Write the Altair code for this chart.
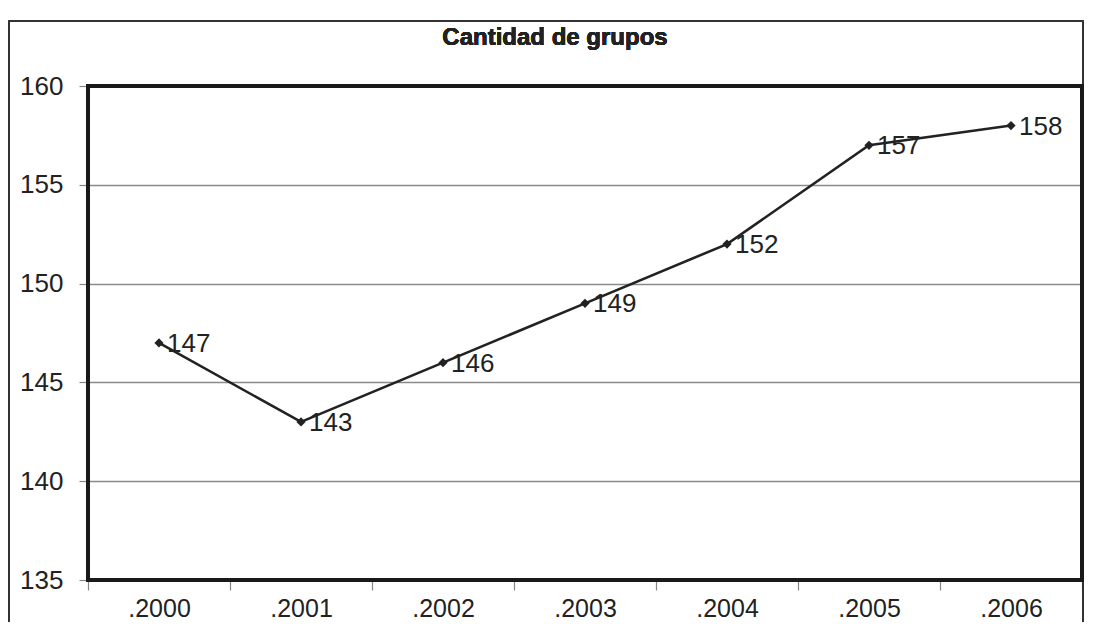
import altair as alt
import pandas as pd

years = [".2000", ".2001", ".2002", ".2003", ".2004", ".2005", ".2006"]
values = [147, 143, 146, 149, 152, 157, 158]
y_ticks = [135, 140, 145, 150, 155, 160]
title_text = "Cantidad de grupos"

df = pd.DataFrame({"year": years, "value": values})

FONT = "Liberation Sans"
W, H = 994, 494

x_enc = alt.X(
    "year:N",
    sort=years,
    scale=alt.Scale(type="band", paddingInner=0, paddingOuter=0),
    axis=alt.Axis(
        title=None, tickBand="extent", labelAngle=0, labelFontSize=25,
        labelFont=FONT, labelColor="#222", labelPadding=6, tickSize=10,
        tickColor="#888", tickWidth=1.2, domain=False, grid=False,
    ),
)
y_enc = alt.Y(
    "value:Q",
    scale=alt.Scale(domain=[135, 160], nice=False, zero=False),
    axis=alt.Axis(
        title=None, values=y_ticks, labelFontSize=26, labelFont=FONT,
        labelColor="#222", labelPadding=16, tickSize=9, tickColor="#888",
        tickWidth=1.2, grid=True, gridColor="#8a8a8a", gridWidth=1.4,
        domain=False,
    ),
)

base = alt.Chart(df)

outer = base.mark_rect(fill=None, stroke="#333", strokeWidth=1.2).encode(
    x=alt.value(-79), x2=alt.value(995), y=alt.value(-65), y2=alt.value(700)
)
plot_frame = base.mark_rect(fill=None, stroke="#1a1a1a", strokeWidth=3.5).encode(
    x=alt.value(0), x2=alt.value(W), y=alt.value(0), y2=alt.value(H)
)

line = base.mark_line(color="#222", strokeWidth=2.6).encode(x=x_enc, y=y_enc)
pts = base.mark_point(shape="diamond", filled=True, color="#222", size=85, opacity=1).encode(
    x=x_enc, y=y_enc
)
labels = base.mark_text(
    align="left", baseline="middle", dx=8, dy=1, fontSize=26, font=FONT, color="#222"
).encode(x=x_enc, y=y_enc, text="value:Q")

title = base.mark_text(
    fontSize=24, fontWeight="bold", font=FONT, color="#222", align="center", baseline="middle"
).encode(x=alt.value(467), y=alt.value(-48), text=alt.value(title_text))

chart = (
    alt.layer(outer, line, pts, labels, plot_frame, title)
    .properties(
        width=W,
        height=H,
        autosize=alt.AutoSizeParams(type="none"),
        padding={"left": 80, "top": 78, "right": 2, "bottom": 42},
    )
    .configure_view(stroke=None)
    .configure(background="white")
)

chart.save("out.html", embed_options={"renderer": "svg", "actions": False})
